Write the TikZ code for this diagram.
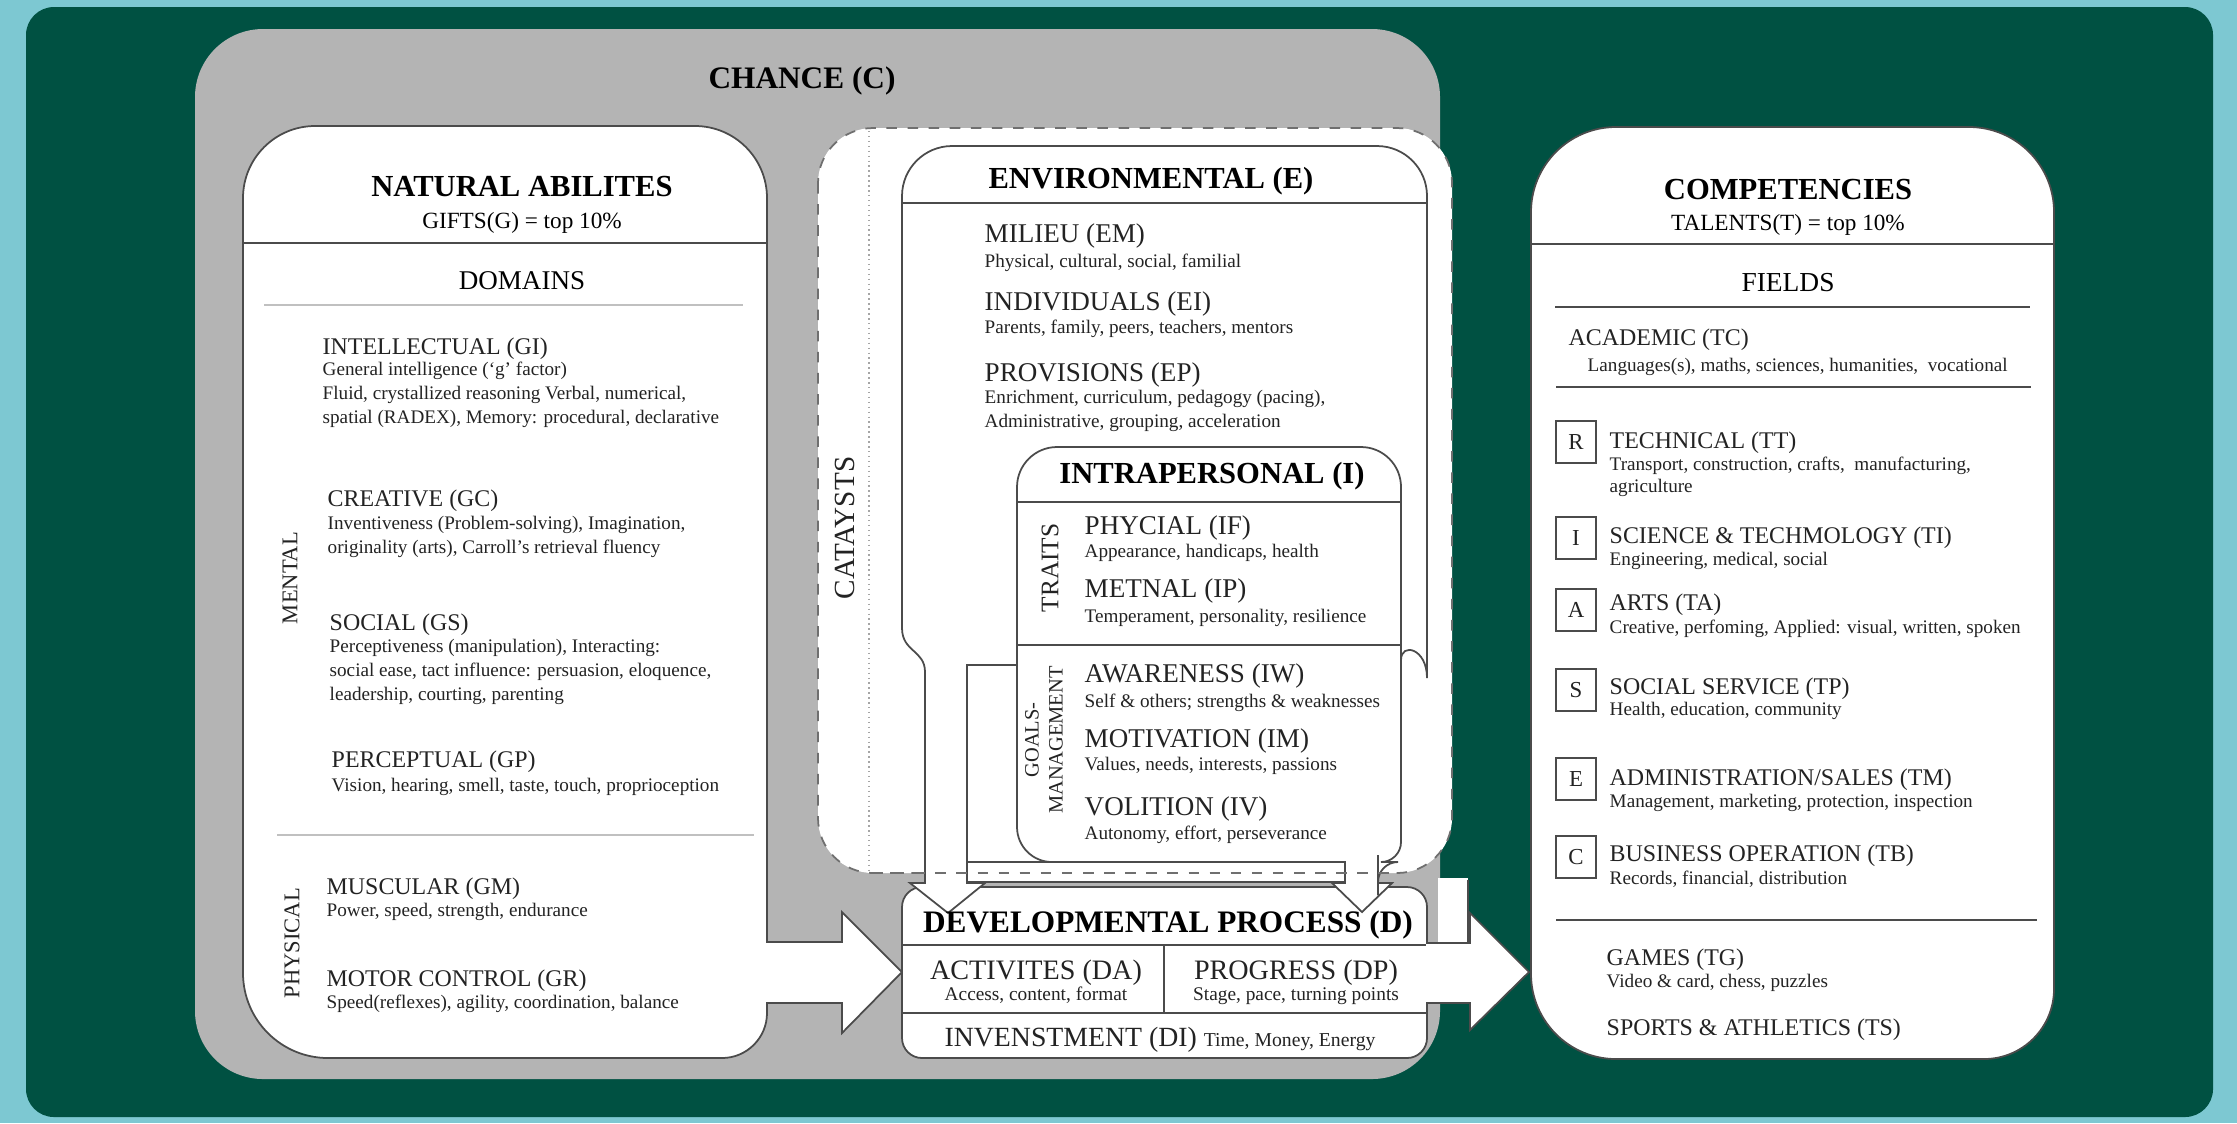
\documentclass[tikz,border=0pt]{standalone}
\usepackage{fontspec}
\setmainfont{Liberation Serif}
\usetikzlibrary{positioning}
\definecolor{bgcyan}{RGB}{125,200,210}
\definecolor{bggreen}{RGB}{0,81,66}
\definecolor{chancegray}{RGB}{180,180,180}
\definecolor{edge}{RGB}{75,75,75}
\definecolor{ink}{RGB}{35,35,35}

\tikzset{
  boxline/.style={draw=edge, line width=0.5pt, fill=white},
  sepline/.style={draw=edge, line width=0.45pt},
  boxtitle/.style={font=\fontsize{8.7}{10}\selectfont\bfseries, text=black, inner sep=0pt, anchor=base},
  itemhead/.style={font=\fontsize{6.8}{8}\selectfont, text=ink, inner sep=0pt, anchor=base west},
  subhead/.style={font=\fontsize{7.7}{9}\selectfont, text=ink, inner sep=0pt, anchor=base west},
  itemdesc/.style={font=\fontsize{5.45}{6}\selectfont, text=ink, inner sep=0pt, anchor=base west},
  sidelabel/.style={font=\fontsize{6.4}{7}\selectfont, text=ink, inner sep=0pt, rotate=90},
  letterbox/.style={draw=edge, line width=0.5pt, minimum width=0.4cm, minimum height=0.42cm, inner sep=0pt, font=\fontsize{6.5}{7}\selectfont, text=ink},
}

\begin{document}
\begin{tikzpicture}[x=0.01cm, y=-0.01cm]
  \useasboundingbox (0,0) rectangle (2237,1123);

  % Background
  \fill[bgcyan] (0,0) rectangle (2237,1123);
  \fill[bggreen, rounded corners=0.28cm] (26,7) rectangle (2213,1117);

  % Chance
  \fill[chancegray, rounded corners=0.68cm] (195,29) rectangle (1440,1079);
  \node[boxtitle, font=\fontsize{8.9}{10}\selectfont\bfseries] (chance) at (802,88) {CHANCE (C)};

  % Natural abilities
  \draw[boxline] (243,600) {[rounded corners=0.72cm] -- (243,126) -- (767,126) -- (767,600)}
    {[rounded corners=0.45cm] -- (767,1058) -- (500,1058)}
    {[rounded corners=0.85cm] -- (243,1058) -- (243,600)} -- cycle;
  \draw[sepline] (243,243) -- (767,243);
  \draw[sepline, draw=edge!35] (264,305) -- (743,305);
  \draw[sepline, draw=edge!35] (277,835) -- (754,835);

  % Arrow into the developmental process
  \draw[boxline] (766,942) -- (842,942) -- (842,912) -- (902,972) -- (842,1033) -- (842,1003) -- (766,1003);

  % Catalysts
  \draw[draw=edge!80, dashed, line width=0.5pt, fill=white, rounded corners=0.55cm] (818,128) rectangle (1452,873);
  \draw[edge!50, densely dotted, line width=0.4pt] (869,131) -- (869,871);

  % Developmental process
  \draw[boxline, rounded corners=0.2cm] (902,887) rectangle (1427,1058);
  \draw[sepline] (902,945) -- (1427,945);
  \draw[sepline] (1164,945) -- (1164,1013);
  \draw[sepline] (902,1013) -- (1427,1013);

  % Environmental
  \draw[boxline] (1017,665) -- (967,665) -- (967,883) -- (985,883) -- (948,913) -- (910,883) -- (925,883)
    -- (925,672) .. controls (925,650) and (902,652) .. (902,628)
    {[rounded corners=0.5cm] -- (902,146) -- (1427,146) -- (1427,628)}
    .. controls (1427,648) and (1401,642) .. (1401,660);
  \draw[sepline] (902,203) -- (1427,203);

  % Intrapersonal
  \draw[boxline] (967,862) rectangle (1345,882);
  \draw[boxline] (1017,650)
    {[rounded corners=0.4cm] -- (1017,447) -- (1401,447) -- (1401,650)}
    {[rounded corners=0.2cm] -- (1401,862) -- (1378,862) -- (1378,875)}
    -- (1378,883) -- (1392,883) -- (1362,912) -- (1332,883) -- (1345,883) -- (1345,862)
    {[rounded corners=0.35cm] -- (1017,862) -- (1017,650)} -- cycle;
  \draw[sepline] (1017,502) -- (1401,502);
  \draw[sepline] (1017,645) -- (1401,645);
  \draw[draw=edge!80, dashed, line width=0.5pt] (872,873) -- (1397,873);

  % Arrow into competencies
  \fill[white] (1438,878) rectangle (1468,943);
  \draw[edge, line width=0.5pt] (1468,880) -- (1468,943);
  \draw[boxline] (1426,943) -- (1470,943) -- (1470,913) -- (1529,972) -- (1470,1030) -- (1470,1003) -- (1426,1003);

  % Competencies
  \draw[boxline] (1531,600) {[rounded corners=0.85cm] -- (1531,127) -- (2054,127) -- (2054,600)}
    {[rounded corners=0.7cm] -- (2054,1059) -- (1800,1059)}
    {[rounded corners=0.85cm] -- (1531,1059) -- (1531,600)} -- cycle;
  \draw[sepline] (1531,244) -- (2054,244);
  \draw[sepline] (1555,307) -- (2030,307);
  \draw[sepline] (1556,387) -- (2031,387);
  \draw[sepline] (1556,920) -- (2037,920);

  % Natural abilities text
  \node[boxtitle] (natural) at (522,196) {NATURAL ABILITES};
  \node[boxtitle, font=\fontsize{6.6}{8}\selectfont] (gifts) at (522,228) {GIFTS(G) = top 10\%};
  \node[boxtitle, font=\fontsize{7.7}{9}\selectfont] (domains) at (522,289) {DOMAINS};
  \node[itemhead] (gi) at (322,354) {INTELLECTUAL (GI)};
  \node[itemdesc] (gi-a) at (322,375) {General intelligence (`g' factor)};
  \node[itemdesc] (gi-b) at (322,399) {Fluid, crystallized reasoning Verbal, numerical,};
  \node[itemdesc] (gi-c) at (322,423) {spatial (RADEX), Memory: procedural, declarative};
  \node[itemhead] (gc) at (327,506) {CREATIVE (GC)};
  \node[itemdesc] (gc-a) at (327,529) {Inventiveness (Problem-solving), Imagination,};
  \node[itemdesc] (gc-b) at (327,553) {originality (arts), Carroll's retrieval fluency};
  \node[itemhead] (gs) at (329,630) {SOCIAL (GS)};
  \node[itemdesc] (gs-a) at (329,652) {Perceptiveness (manipulation), Interacting:};
  \node[itemdesc] (gs-b) at (329,676) {social ease, tact influence: persuasion, eloquence,};
  \node[itemdesc] (gs-c) at (329,700) {leadership, courting, parenting};
  \node[itemhead] (gp) at (331,767) {PERCEPTUAL (GP)};
  \node[itemdesc] (gp-a) at (331,791) {Vision, hearing, smell, taste, touch, proprioception};
  \node[itemhead] (gm) at (326,894) {MUSCULAR (GM)};
  \node[itemdesc] (gm-a) at (326,916) {Power, speed, strength, endurance};
  \node[itemhead] (gr) at (326,986) {MOTOR CONTROL (GR)};
  \node[itemdesc] (gr-a) at (326,1008) {Speed(reflexes), agility, coordination, balance};
  \node[sidelabel] (mental) at (290,578) {MENTAL};
  \node[sidelabel] (physical) at (292,943) {PHYSICAL};

  % Catalysts text
  \node[sidelabel, font=\fontsize{8.3}{9}\selectfont] (catalysts) at (845,528) {CATAYSTS};
  \node[boxtitle] (env) at (1151,188) {ENVIRONMENTAL (E)};
  \node[subhead] (em) at (984,242) {MILIEU (EM)};
  \node[itemdesc] (em-a) at (984,267) {Physical, cultural, social, familial};
  \node[subhead] (ei) at (984,310) {INDIVIDUALS (EI)};
  \node[itemdesc] (ei-a) at (984,333) {Parents, family, peers, teachers, mentors};
  \node[subhead] (ep) at (984,381) {PROVISIONS (EP)};
  \node[itemdesc] (ep-a) at (984,403) {Enrichment, curriculum, pedagogy (pacing),};
  \node[itemdesc] (ep-b) at (984,427) {Administrative, grouping, acceleration};
  \node[boxtitle] (intra) at (1212,483) {INTRAPERSONAL (I)};
  \node[sidelabel, font=\fontsize{7.2}{8}\selectfont] (traits) at (1050,568) {TRAITS};
  \node[subhead] (if) at (1084,534) {PHYCIAL (IF)};
  \node[itemdesc] (if-a) at (1084,557) {Appearance, handicaps, health};
  \node[subhead] (ip) at (1084,597) {METNAL (IP)};
  \node[itemdesc] (ip-a) at (1084,622) {Temperament, personality, resilience};
  \node[sidelabel, font=\fontsize{5.8}{6.8}\selectfont, align=center] (goals) at (1044,740) {GOALS-\\MANAGEMENT};
  \node[subhead] (iw) at (1084,682) {AWARENESS (IW)};
  \node[itemdesc] (iw-a) at (1084,707) {Self \& others; strengths \& weaknesses};
  \node[subhead] (im) at (1084,747) {MOTIVATION (IM)};
  \node[itemdesc] (im-a) at (1084,770) {Values, needs, interests, passions};
  \node[subhead] (iv) at (1084,815) {VOLITION (IV)};
  \node[itemdesc] (iv-a) at (1084,839) {Autonomy, effort, perseverance};

  % Developmental process text
  \node[boxtitle, font=\fontsize{8.9}{10}\selectfont\bfseries] (dev) at (1168,932) {DEVELOPMENTAL PROCESS (D)};
  \node[subhead, anchor=base, font=\fontsize{8}{9}\selectfont] (da) at (1036,979) {ACTIVITES (DA)};
  \node[itemdesc, anchor=base, font=\fontsize{5.5}{6}\selectfont] (da-a) at (1036,1000) {Access, content, format};
  \node[subhead, anchor=base, font=\fontsize{8}{9}\selectfont] (dp) at (1296,979) {PROGRESS (DP)};
  \node[itemdesc, anchor=base, font=\fontsize{5.5}{6}\selectfont] (dp-a) at (1296,1000) {Stage, pace, turning points};
  \node[subhead, anchor=base, font=\fontsize{7.9}{9}\selectfont] (di) at (1160,1046) {INVENSTMENT (DI) {\fontsize{5.6}{6}\selectfont Time, Money, Energy}};

  % Competencies text
  \node[boxtitle] (comp) at (1788,199) {COMPETENCIES};
  \node[boxtitle, font=\fontsize{6.6}{8}\selectfont] (talents) at (1788,230) {TALENTS(T) = top 10\%};
  \node[boxtitle, font=\fontsize{7.8}{9}\selectfont] (fields) at (1788,291) {FIELDS};
  \node[itemhead] (tc) at (1568,345) {ACADEMIC (TC)};
  \node[itemdesc] (tc-a) at (1587,371) {Languages(s), maths, sciences, humanities,\ \ vocational};
  \node[letterbox] (lr) at (1576,442) {R};
  \node[itemhead] (tt) at (1609,448) {TECHNICAL (TT)};
  \node[itemdesc] (tt-a) at (1609,470) {Transport, construction, crafts,\ \ manufacturing,};
  \node[itemdesc] (tt-b) at (1609,492) {agriculture};
  \node[letterbox] (li) at (1576,538) {I};
  \node[itemhead] (ti) at (1609,543) {SCIENCE \& TECHMOLOGY (TI)};
  \node[itemdesc] (ti-a) at (1609,565) {Engineering, medical, social};
  \node[letterbox] (la) at (1576,610) {A};
  \node[itemhead] (ta) at (1609,610) {ARTS (TA)};
  \node[itemdesc] (ta-a) at (1609,633) {Creative, perfoming, Applied: visual, written, spoken};
  \node[letterbox] (ls) at (1576,690) {S};
  \node[itemhead] (tp) at (1609,694) {SOCIAL SERVICE (TP)};
  \node[itemdesc] (tp-a) at (1609,715) {Health, education, community};
  \node[letterbox] (le) at (1576,779) {E};
  \node[itemhead] (tm) at (1609,785) {ADMINISTRATION/SALES (TM)};
  \node[itemdesc] (tm-a) at (1609,807) {Management, marketing, protection, inspection};
  \node[letterbox] (lc) at (1576,857) {C};
  \node[itemhead] (tb) at (1609,861) {BUSINESS OPERATION (TB)};
  \node[itemdesc] (tb-a) at (1609,884) {Records, financial, distribution};
  \node[itemhead] (tg) at (1606,965) {GAMES (TG)};
  \node[itemdesc] (tg-a) at (1606,987) {Video \& card, chess, puzzles};
  \node[itemhead] (ts) at (1606,1035) {SPORTS \& ATHLETICS (TS)};
\end{tikzpicture}
\end{document}
